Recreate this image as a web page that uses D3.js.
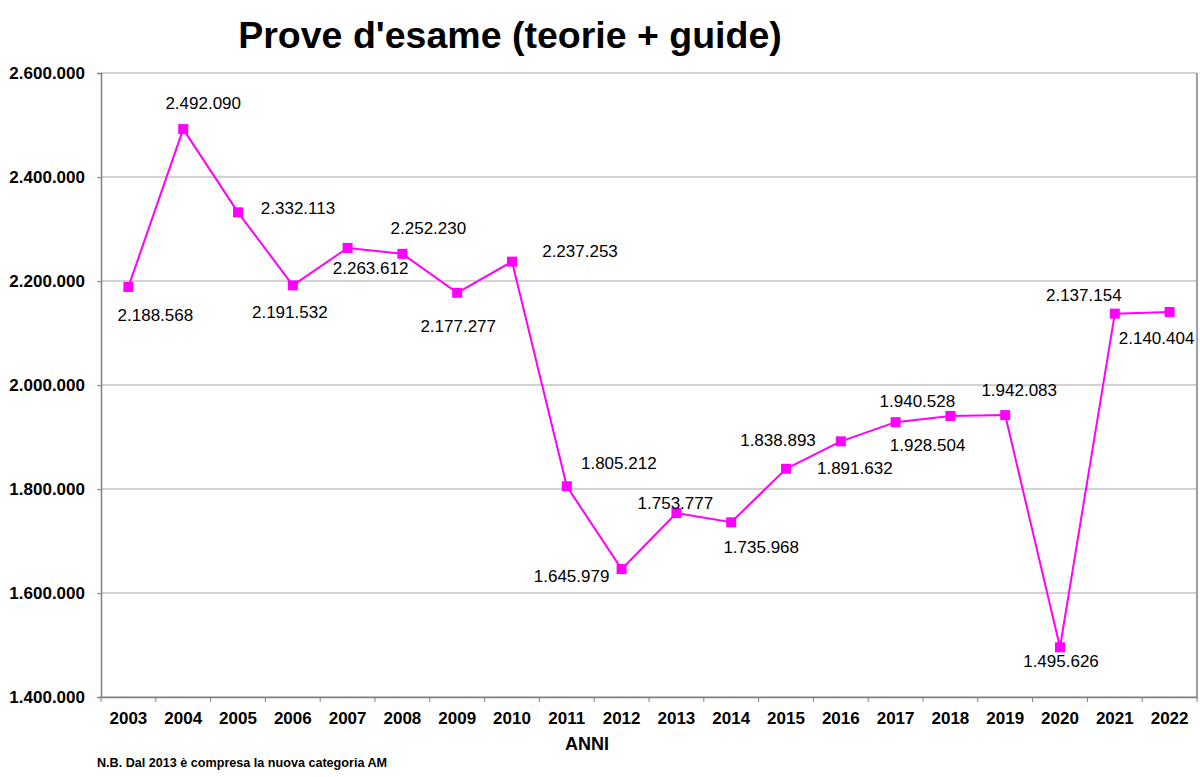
<!DOCTYPE html>
<html>
<head>
<meta charset="utf-8">
<script src="https://cdn.jsdelivr.net/npm/d3@7"></script>
<style>
  html, body { margin: 0; padding: 0; background: #fff; }
  svg { display: block; font-family: "Liberation Sans", Arial, sans-serif; }
</style>
</head>
<body>
<svg id="chart" width="1200" height="777"></svg>
<script>
// ---- data ----
const years = ["2003","2004","2005","2006","2007","2008","2009","2010","2011","2012",
               "2013","2014","2015","2016","2017","2018","2019","2020","2021","2022"];
const values = [2188568, 2492090, 2332113, 2191532, 2263612, 2252230, 2177277, 2237253, 1805212, 1645979,
                1753777, 1735968, 1838893, 1891632, 1928504, 1940528, 1942083, 1495626, 2137154, 2140404];
const yTicks = [1400000, 1600000, 1800000, 2000000, 2200000, 2400000, 2600000];
const titleText = "Prove d'esame (teorie + guide)";
const xAxisTitle = "ANNI";
const footnote = "N.B. Dal 2013 è compresa la nuova categoria AM";

// ---- layout (label offsets relative to markers) ----
const labelOffsets = [[27,28],[20,-26],[60,-4],[-3,26],[23,20],[26,-26],[1,33],[68,-11],[52,-23],[-50,7],
                      [-1,-10],[30,25],[-8,-29],[14,27],[32,23],[-33,-15],[14,-25],[1,14],[-31,-19],[-13,26]];

(function () {
const svg = d3.select("#chart");
const pLeft = 101, pRight = 1197, pTop = 73, pBottom = 697;
const fmt = v => d3.format(",")(v).replace(/,/g, ".");

const x = d3.scaleBand().domain(years).range([pLeft, pRight]);
const y = d3.scaleLinear().domain([1400000, 2600000]).range([pBottom, pTop]);

// gridlines
svg.append("g").selectAll("line").data(yTicks).join("line")
  .attr("x1", pLeft).attr("x2", pRight)
  .attr("y1", d => y(d)).attr("y2", d => y(d))
  .attr("stroke", "#a6a6a6").attr("stroke-width", 1);

// y axis
const yAxis = svg.append("g").attr("transform", `translate(${pLeft},0)`)
  .call(d3.axisLeft(y).tickValues(yTicks).tickFormat(fmt).tickSize(4).tickPadding(12));
yAxis.select(".domain").attr("stroke", "#808080").attr("stroke-width", 1.5);
yAxis.selectAll(".tick line").attr("stroke", "#808080");
yAxis.selectAll("text").attr("font-size", 17).attr("font-weight", "bold").attr("fill", "#000")
  .attr("font-family", "Liberation Sans, Arial, sans-serif");

// right border
svg.append("line").attr("x1", pRight).attr("x2", pRight).attr("y1", pTop).attr("y2", pBottom)
  .attr("stroke", "#808080").attr("stroke-width", 1.5);

// x axis
const xAxis = svg.append("g").attr("transform", `translate(0,${pBottom})`)
  .call(d3.axisBottom(x).tickSize(0).tickPadding(15));
xAxis.select(".domain").attr("stroke", "#808080").attr("stroke-width", 1.5);
xAxis.selectAll("text").attr("font-size", 17).attr("font-weight", "bold").attr("fill", "#000")
  .attr("font-family", "Liberation Sans, Arial, sans-serif");
// category boundary ticks
const bounds = years.map(d => x(d)).concat([pRight]);
svg.append("g").selectAll("line").data(bounds).join("line")
  .attr("x1", d => d).attr("x2", d => d).attr("y1", pBottom).attr("y2", pBottom + 5)
  .attr("stroke", "#808080").attr("stroke-width", 1);

const cx = d => x(d) + x.bandwidth() / 2;
const pts = years.map((yr, i) => ({yr, v: values[i], off: labelOffsets[i]}));

// line
svg.append("path").datum(pts)
  .attr("fill", "none").attr("stroke", "#ff00ff").attr("stroke-width", 2)
  .attr("d", d3.line().x(d => cx(d.yr)).y(d => y(d.v)));

// markers
svg.append("g").selectAll("rect").data(pts).join("rect")
  .attr("x", d => cx(d.yr) - 5).attr("y", d => y(d.v) - 5)
  .attr("width", 10).attr("height", 10).attr("fill", "#ff00ff");

// value labels
svg.append("g").selectAll("text").data(pts).join("text")
  .attr("x", d => cx(d.yr) + d.off[0]).attr("y", d => y(d.v) + d.off[1])
  .attr("dy", "0.36em").attr("text-anchor", "middle")
  .attr("font-size", 17).attr("fill", "#000")
  .text(d => fmt(d.v));

// title
svg.append("text").attr("x", 510).attr("y", 48).attr("text-anchor", "middle")
  .attr("font-size", 37.5).attr("font-weight", "bold").text(titleText);

// x axis title
svg.append("text").attr("x", 587).attr("y", 750).attr("text-anchor", "middle")
  .attr("font-size", 18).attr("font-weight", "bold").text(xAxisTitle);

// footnote
svg.append("text").attr("x", 97).attr("y", 767)
  .attr("font-size", 12.6).attr("font-weight", "bold").text(footnote);
})();
</script>
</body>
</html>
